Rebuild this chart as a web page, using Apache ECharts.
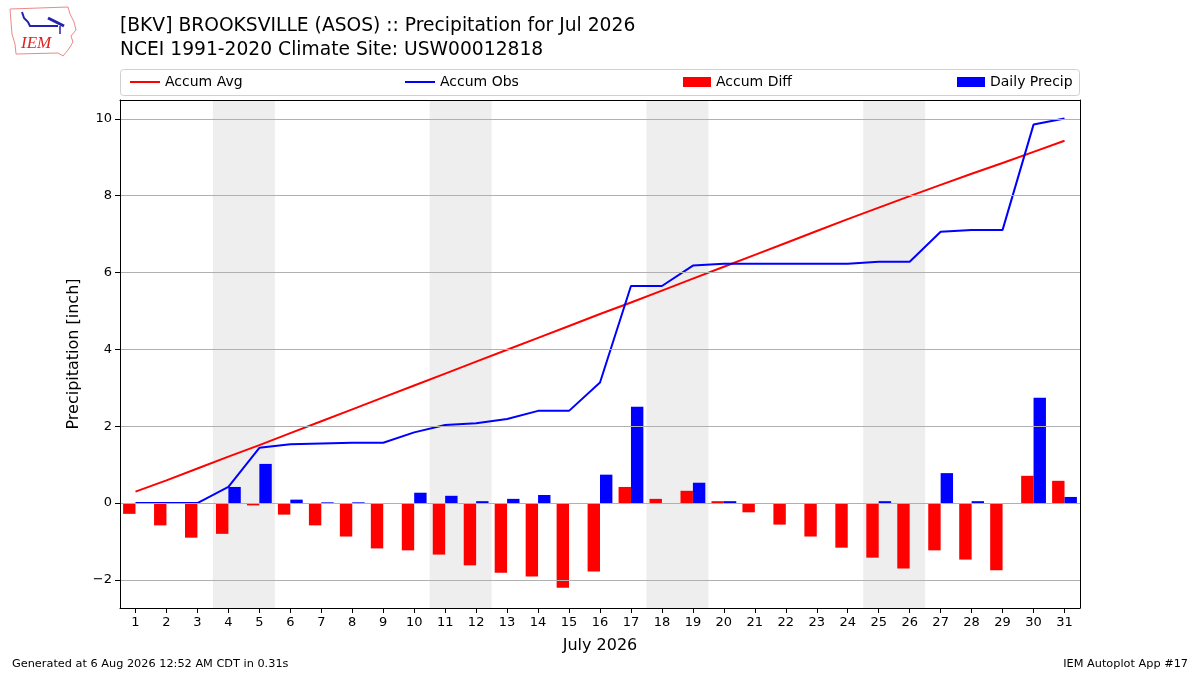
<!DOCTYPE html>
<html>
<head>
<meta charset="utf-8">
<script src="https://cdn.jsdelivr.net/npm/echarts@6/dist/echarts.min.js"></script>
<style>
html,body{margin:0;padding:0;background:#fff;}
#chart{width:1200px;height:675px;}
</style>
</head>
<body>
<div id="chart"></div>
<script>
var days = [1,2,3,4,5,6,7,8,9,10,11,12,13,14,15,16,17,18,19,20,21,22,23,24,25,26,27,28,29,30,31];
var accumAvg = [0.30,0.59,0.90,1.21,1.51,1.82,2.13,2.44,2.75,3.06,3.37,3.68,3.99,4.30,4.61,4.92,5.22,5.53,5.84,6.15,6.46,6.77,7.08,7.39,7.69,7.99,8.28,8.57,8.85,9.14,9.43];
var accumObs = [0,0,0,0.42,1.44,1.53,1.55,1.57,1.57,1.84,2.03,2.08,2.19,2.40,2.40,3.14,5.65,5.65,6.18,6.23,6.23,6.23,6.23,6.23,6.28,6.28,7.06,7.11,7.11,9.85,10.01];
var accumDiff = [-0.28,-0.58,-0.90,-0.80,-0.06,-0.30,-0.58,-0.87,-1.18,-1.23,-1.34,-1.62,-1.81,-1.91,-2.20,-1.78,0.42,0.11,0.32,0.05,-0.24,-0.56,-0.87,-1.16,-1.42,-1.70,-1.23,-1.47,-1.75,0.71,0.58];
var dailyPrecip = [0,0,0,0.42,1.02,0.09,0.02,0.02,0,0.27,0.19,0.05,0.11,0.21,0,0.74,2.51,0,0.53,0.05,0,0,0,0,0.05,0,0.78,0.05,0,2.74,0.16];
var yTicks = [-2,0,2,4,6,8,10];
var weekendStarts = [3.5,10.5,17.5,24.5];
var weekendEnds = [5.5,12.5,19.5,26.5];

function pairs(vals){ return days.map(function(d,i){ return [d, vals[i]]; }); }
var FONT = 'DejaVu Sans';

var chart = echarts.init(document.getElementById('chart'));
var legendBase = {
  orient:'horizontal', top:70, itemGap:0, selectedMode:false,
  textStyle:{fontFamily:FONT,fontSize:14,color:'#000'}
};
function lg(name,left,icon,w,h){
  return Object.assign({}, legendBase, {data:[{name:name,icon:icon}], left:left, itemWidth:w, itemHeight:h});
}
var frameAxis = {
  type:'value', min:0.5, max:31.5, z:10, silent:true,
  axisLine:{show:true,onZero:false,lineStyle:{color:'#000',width:1}},
  axisTick:{show:false}, axisLabel:{show:false}, splitLine:{show:false}
};
chart.setOption({
  animation:false,
  backgroundColor:'#fff',
  title:{
    text:'[BKV] BROOKSVILLE (ASOS) :: Precipitation for Jul 2026\nNCEI 1991-2020 Climate Site: USW00012818',
    left:115, top:9,
    textStyle:{fontFamily:FONT,fontSize:18.7,fontWeight:'normal',color:'#000',lineHeight:24}
  },
  legend:[
    lg('Accum Avg',125,'rect',30,2),
    lg('Accum Obs',400,'rect',30,2),
    lg('Accum Diff',678,'rect',28,10),
    lg('Daily Precip',952,'rect',28,10)
  ],
  grid:{left:120,right:120,top:100,bottom:67,show:false},
  xAxis:[{
    type:'value', min:0.5, max:31.5, z:10,
    name:'July 2026', nameLocation:'middle', nameGap:30,
    nameTextStyle:{fontFamily:FONT,fontSize:16,color:'#000'},
    axisLine:{show:true,onZero:false,lineStyle:{color:'#000',width:1}},
    axisTick:{show:true,length:5,lineStyle:{color:'#000'},customValues:days},
    axisLabel:{fontFamily:FONT,fontSize:13,color:'#000',margin:8,customValues:days},
    splitLine:{show:false}
  }, Object.assign({}, frameAxis, {position:'top'})],
  yAxis:[{
    type:'value', min:-2.73, max:10.49, z:10,
    name:'Precipitation [inch]', nameLocation:'middle', nameGap:38, nameRotate:90,
    nameTextStyle:{fontFamily:FONT,fontSize:16,color:'#000'},
    axisLine:{show:true,onZero:false,lineStyle:{color:'#000',width:1}},
    axisTick:{show:true,length:5,lineStyle:{color:'#000'},customValues:yTicks},
    axisLabel:{fontFamily:FONT,fontSize:13,color:'#000',margin:8,customValues:yTicks,
      formatter:function(v){ return v<0 ? '\u2212'+Math.abs(v) : String(v); }},
    splitLine:{show:false}
  }, Object.assign({}, frameAxis, {position:'right', min:-2.73, max:10.49})],
  graphic:[
    {type:'rect',z:-10,shape:{x:120.5,y:69.5,width:959,height:26,r:3},style:{fill:'#fff',stroke:'#d0d0d0',lineWidth:1}},
    {type:'text',left:12,top:659,style:{text:'Generated at 6 Aug 2026 12:52 AM CDT in 0.31s',font:'11.3px "DejaVu Sans"',fill:'#000'}},
    {type:'text',right:12,top:659,style:{text:'IEM Autoplot App #17',font:'11.3px "DejaVu Sans"',fill:'#000'}},
    {type:'polygon',shape:{points:[[10,9],[68,7],[70,14],[74,22],[76,30],[71,36],[73,42],[68,50],[63,56],[58,53],[16,54],[15,44],[12,34],[11,22]]},style:{fill:'none',stroke:'#e88',lineWidth:1}},
    {type:'polyline',shape:{points:[[22,12],[24,18],[28,22],[30,26],[58,26]]},style:{stroke:'#22a',lineWidth:2,fill:'none'}},
    {type:'polyline',shape:{points:[[48,18],[60,24],[64,26]]},style:{stroke:'#22a',lineWidth:3,fill:'none'}},
    {type:'polyline',shape:{points:[[60,26],[60,34]]},style:{stroke:'#22a',lineWidth:1.5,fill:'none'}},
    {type:'text',left:21,top:35,style:{text:'IEM',font:'italic 17px "Liberation Serif"',fill:'#d22'}}
  ],
  series:[
    {
      type:'line', name:'bg', data:[], silent:true, z:0,
      markArea:{silent:true,itemStyle:{color:'#eeeeee'},
        data:weekendStarts.map(function(s,i){ return [{xAxis:s},{xAxis:weekendEnds[i]}]; })},
      markLine:{silent:true,symbol:['none','none'],label:{show:false},
        lineStyle:{color:'#b0b0b0',width:1,type:'solid'},
        data:yTicks.map(function(t){ return {yAxis:t}; })}
    },
    {type:'bar',name:'Accum Diff',data:pairs(accumDiff),barWidth:12.4,barGap:'0%',itemStyle:{color:'#ff0000'},z:3},
    {type:'bar',name:'Daily Precip',data:pairs(dailyPrecip),barWidth:12.4,barGap:'0%',itemStyle:{color:'#0000ff'},z:3},
    {type:'line',name:'Accum Avg',data:pairs(accumAvg),showSymbol:false,symbol:'none',lineStyle:{color:'#ff0000',width:2},itemStyle:{color:'#ff0000'},z:4},
    {type:'line',name:'Accum Obs',data:pairs(accumObs),showSymbol:false,symbol:'none',lineStyle:{color:'#0000ff',width:2},itemStyle:{color:'#0000ff'},z:4}
  ]
});
</script>
</body>
</html>
